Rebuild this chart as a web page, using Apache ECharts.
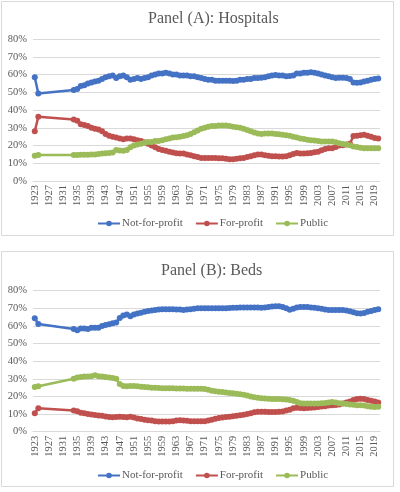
<!DOCTYPE html>
<html><head><meta charset="utf-8">
<script src="https://cdn.jsdelivr.net/npm/echarts@6/dist/echarts.min.js"></script>
<style>html,body{margin:0;padding:0;background:#fff}#c{width:400px;height:492px}</style>
</head><body><div id="c"></div>
<script>
// Years with data: 1923, 1924, then 1934..2020
const earlyYears = [1923, 1924];
const firstRegularYear = 1934, lastYear = 2020;
const seriesNames = ['Not-for-profit', 'For-profit', 'Public'];
const titleA = 'Panel (A): Hospitals';
const titleB = 'Panel (B): Beds';
const yTicks = [0, 10, 20, 30, 40, 50, 60, 70, 80];

// Panel A: Hospitals (%)
const hospNFPearly = [58.4, 49.3];
const hospNFP = [
 51.3, 51.8, 53.5, 54, 55, 55.5, 56, 56.5, 57.5, 58.5,
 59, 59.5, 58, 59, 59.5, 58.5, 57, 57.5, 58, 57.5,
 58, 58.5, 59.5, 60, 60.5, 60.5, 61, 60.5, 60, 60,
 59.5, 59.5, 59.5, 59, 59, 58.5, 58, 57.5, 57, 57,
 56.5, 56.5, 56.5, 56.5, 56.5, 56.3, 56.5, 57, 57, 57.5,
 57.5, 58, 58, 58.2, 58.5, 59, 59.5, 59.7, 59.5, 59.5,
 59, 59.2, 59.5, 60.5, 60.5, 61, 61, 61.3, 61, 60.5,
 60, 59.5, 59, 58.5, 58, 58.2, 58.2, 58, 57.5, 55.5,
 55.3, 55.5, 56, 56.5, 57, 57.5, 57.8];
const hospFPearly = [28, 36.2];
const hospFP = [
 34.7, 34, 32, 31.5, 31, 30, 29.5, 29, 28, 26.5,
 25.5, 25, 24.5, 24, 23.5, 24, 24, 23.5, 23, 22.5,
 21.8, 21, 20, 19, 18, 17.5, 17, 16.5, 16, 15.7,
 15.5, 15.5, 15, 14.5, 14, 13.5, 13, 13, 13, 13,
 13, 12.8, 12.8, 12.5, 12.3, 12.3, 12.5, 12.8, 13, 13.5,
 14, 14.5, 15, 15, 14.5, 14.2, 14, 14, 13.8, 13.8,
 14, 14.5, 15.2, 15.8, 15.5, 15.5, 15.6, 15.8, 16.2, 16.5,
 17.3, 18, 18.5, 18.5, 19.2, 20, 20.2, 20.5, 21, 25.3,
 25.5, 25.8, 26, 25.5, 25, 24.2, 24];
const hospPubEarly = [14.2, 14.7];
const hospPub = [
 14.7, 14.7, 14.8, 14.8, 14.8, 15, 15, 15.2, 15.5, 15.7,
 15.8, 16, 17.5, 17.2, 17, 17.5, 19, 20, 20.5, 21,
 21.5, 22, 22, 22.5, 22.5, 23, 23.5, 24, 24.5, 24.7,
 25, 25.3, 25.8, 26.5, 27.5, 28.5, 29.5, 30, 30.5, 31,
 31, 31.2, 31.2, 31.3, 31, 30.5, 30.3, 30, 29.5, 28.8,
 28, 27.3, 26.8, 26.5, 26.8, 26.8, 26.7, 26.5, 26.3, 26,
 25.8, 25.5, 25, 24.5, 24, 23.7, 23.3, 23, 22.8, 22.5,
 22.3, 22.2, 22.3, 22.3, 21.8, 21.3, 20.8, 20.5, 20.2, 19.5,
 19.2, 18.8, 18.5, 18.5, 18.5, 18.5, 18.5];

// Panel B: Beds (%)
const bedsNFPearly = [64.4, 61.1];
const bedsNFP = [
 58.3, 57.5, 58.5, 58.5, 58.2, 59, 59, 59, 60, 60.5,
 61, 61.5, 62, 64.5, 66, 66.5, 65.5, 66.5, 67, 67.5,
 68, 68.5, 68.8, 69, 69.3, 69.5, 69.5, 69.5, 69.5, 69.3,
 69.3, 69, 69.3, 69.5, 69.8, 70, 70, 70, 70, 70,
 70, 70, 70, 70, 70.2, 70.3, 70.3, 70.5, 70.5, 70.5,
 70.5, 70.5, 70.5, 70.3, 70.5, 70.8, 71, 71.2, 71.2, 70.8,
 70, 69.2, 69.8, 70.5, 70.8, 70.8, 70.8, 70.5, 70.3, 70,
 69.7, 69.3, 69, 69, 69, 69, 69, 68.8, 68.3, 67.8,
 67.2, 67, 67.3, 68, 68.5, 69, 69.5];
const bedsFPearly = [10.4, 13.3];
const bedsFP = [
 12, 11.6, 10.8, 10.5, 10, 9.8, 9.5, 9.2, 9, 8.6,
 8.3, 8.2, 8.3, 8.5, 8.3, 8.2, 8.5, 8, 7.5, 7.2,
 6.8, 6.5, 6.3, 6, 5.8, 5.8, 5.8, 5.8, 6, 6.3,
 6.5, 6.3, 6.2, 6, 6, 6, 6, 6, 6.3, 6.8,
 7.3, 7.8, 8, 8.3, 8.5, 8.7, 9, 9.3, 9.6, 10,
 10.5, 11, 11.3, 11.3, 11.3, 11.2, 11.2, 11.2, 11.3, 11.5,
 12, 12.5, 13.3, 13.6, 13.4, 13.3, 13.4, 13.6, 13.8, 14,
 14.3, 14.5, 14.8, 15, 15.2, 15.5, 16, 16.5, 17.2, 18,
 18.5, 18.7, 18.5, 18, 17.5, 17.2, 16.6];
const bedsPubEarly = [25.3, 25.8];
const bedsPub = [
 30, 30.8, 31, 31.3, 31.3, 31.5, 32, 31.5, 31.3, 31,
 30.8, 30.5, 30, 27, 26, 25.8, 26, 26, 25.8, 25.5,
 25.3, 25.2, 25, 25, 24.8, 24.7, 24.7, 24.6, 24.6, 24.5,
 24.5, 24.5, 24.4, 24.3, 24.3, 24.3, 24.3, 24.2, 23.8, 23.3,
 23, 22.7, 22.5, 22.2, 22, 21.8, 21.5, 21.2, 21, 20.5,
 20, 19.5, 19.2, 19, 18.8, 18.7, 18.6, 18.5, 18.5, 18.4,
 18.3, 18, 17.5, 16.8, 16.2, 16, 16, 16, 16, 16,
 16.1, 16.3, 16.6, 16.8, 16.5, 16.2, 16, 15.7, 15.5, 15.3,
 15, 15, 14.8, 14.5, 14.2, 14, 14.2];

const colors = ['#4472C4', '#C0504D', '#9BBB59'];
const FONT = '"Liberation Serif", "Times New Roman", serif';
const GRAY = '#595959';
const GRID = '#D9D9D9';

const categories = [];
for (let y = earlyYears[0]; y <= lastYear; y++) categories.push(String(y));

function pairs(early, regular) {
  const out = earlyYears.map((y, i) => [String(y), early[i]]);
  regular.forEach((v, i) => out.push([String(firstRegularYear + i), v]));
  return out;
}

function mkSeries(name, idx, data, axisIndex) {
  return {
    name: name, type: 'line', xAxisIndex: axisIndex, yAxisIndex: axisIndex,
    data: data, symbol: 'circle', symbolSize: 6, showSymbol: true, showAllSymbol: true,
    color: colors[idx],
    lineStyle: { width: 2.5, color: colors[idx] },
    itemStyle: { color: colors[idx] },
    animation: false
  };
}

function xAx(gi) {
  return {
    type: 'category', gridIndex: gi, data: categories, boundaryGap: true,
    axisLine: { show: true, lineStyle: { color: GRID } },
    axisTick: { show: false },
    axisLabel: { interval: 3, rotate: 90, fontFamily: FONT, fontSize: 10.5, color: GRAY, margin: 4 }
  };
}
function yAx(gi) {
  return {
    type: 'value', gridIndex: gi, min: yTicks[0], max: yTicks[yTicks.length - 1], interval: yTicks[1] - yTicks[0],
    axisLine: { show: false }, axisTick: { show: false },
    splitLine: { lineStyle: { color: GRID, width: 1 } },
    axisLabel: { formatter: '{value}%', fontFamily: FONT, fontSize: 10.5, color: GRAY, margin: 6 }
  };
}
function legend(top) {
  return {
    top: top, left: 92, itemWidth: 22, itemHeight: 7, itemGap: 12,
    data: seriesNames,
    textStyle: { fontFamily: FONT, fontSize: 11, color: GRAY, padding: [0, 0, 0, -3] }
  };
}

const chart = echarts.init(document.getElementById('c'), null, { renderer: 'canvas' });
chart.setOption({
  backgroundColor: '#fff',
  animation: false,
  title: [
    { text: titleA, left: 143, top: 6, textStyle: { fontFamily: FONT, fontSize: 16, fontWeight: 'normal', color: GRAY } },
    { text: titleB, left: 156, top: 258, textStyle: { fontFamily: FONT, fontSize: 16, fontWeight: 'normal', color: GRAY } }
  ],
  legend: [legend(213), legend(465)],
  grid: [
    { left: 33, right: 20, top: 39, height: 142 },
    { left: 33, right: 20, top: 290.7, height: 141 }
  ],
  xAxis: [xAx(0), xAx(1)],
  yAxis: [yAx(0), yAx(1)],
  graphic: [
    { type: 'rect', shape: { x: 1.5, y: 1.5, width: 392, height: 234 }, style: { fill: null, stroke: GRID, lineWidth: 1 }, silent: true },
    { type: 'rect', shape: { x: 1.5, y: 251.5, width: 392, height: 235 }, style: { fill: null, stroke: GRID, lineWidth: 1 }, silent: true }
  ],
  series: [
    mkSeries(seriesNames[0], 0, pairs(hospNFPearly, hospNFP), 0),
    mkSeries(seriesNames[1], 1, pairs(hospFPearly, hospFP), 0),
    mkSeries(seriesNames[2], 2, pairs(hospPubEarly, hospPub), 0),
    mkSeries(seriesNames[0], 0, pairs(bedsNFPearly, bedsNFP), 1),
    mkSeries(seriesNames[1], 1, pairs(bedsFPearly, bedsFP), 1),
    mkSeries(seriesNames[2], 2, pairs(bedsPubEarly, bedsPub), 1)
  ]
});
</script></body></html>
